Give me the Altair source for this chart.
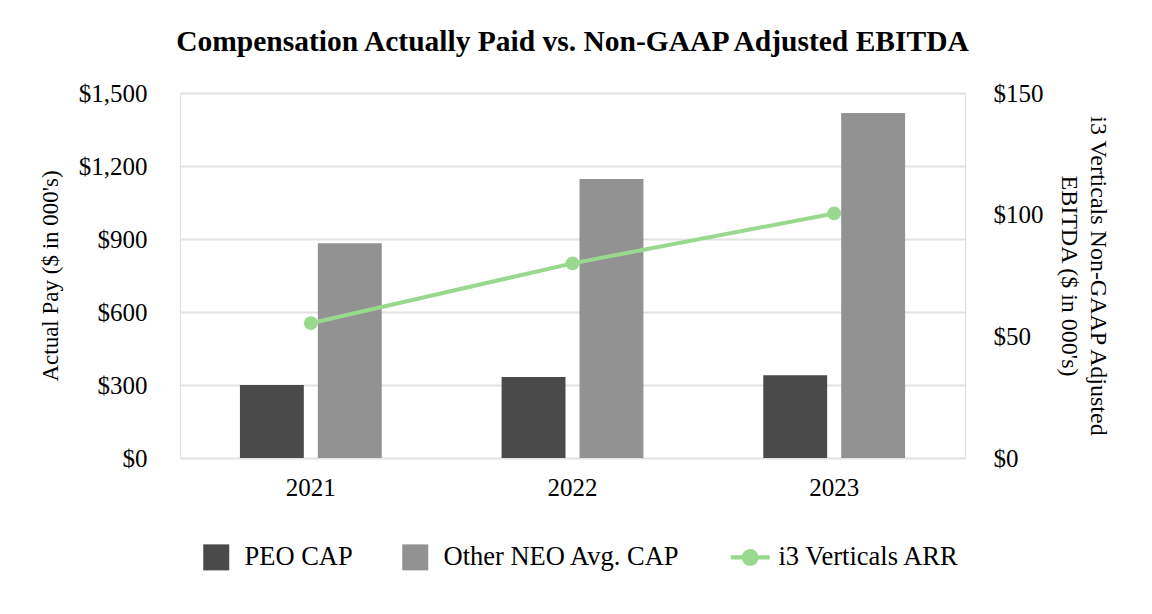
import altair as alt
import pandas as pd

# ---- data ----
years = ["2021", "2022", "2023"]
peo_cap = [300, 333, 340]          # $ in 000's, left axis
neo_cap = [883, 1147, 1418]        # $ in 000's, left axis
arr_values = [55.4, 80.0, 100.5]   # $ in 000's, right axis
series_names = ["PEO CAP", "Other NEO Avg. CAP", "i3 Verticals ARR"]
series_colors = ["#4a4a4a", "#929292", "#98d98e"]
left_ticks = [0, 300, 600, 900, 1200, 1500]
right_ticks = [0, 50, 100, 150]

bars_df = pd.DataFrame({
    "year": years * 2,
    "series": [series_names[0]] * 3 + [series_names[1]] * 3,
    "value": peo_cap + neo_cap,
})
line_df = pd.DataFrame({
    "year": years,
    "series": [series_names[2]] * 3,
    "value": arr_values,
})

FONT = "Liberation Serif"

bar_symbol = "M-1,-1H1V1H-1Z"
line_symbol = ("M-1.5,-0.17H1.5V0.17H-1.5Z"
               "M0.64,0A0.64,0.64 0 1,1 -0.64,0A0.64,0.64 0 1,1 0.64,0Z")

legend = alt.Legend(
    title=None,
    orient="none",
    legendX=23,
    legendY=451,
    direction="horizontal",
    symbolType=alt.ExprRef(
        expr=f"datum.value === '{series_names[2]}' ? '{line_symbol}' : '{bar_symbol}'"
    ),
    symbolSize=676,
    symbolStrokeWidth=0,
    symbolOpacity=1,
    labelFont=FONT,
    labelFontSize=26.5,
    labelColor="#000000",
    labelOffset=15,
    labelLimit=600,
    columnPadding=49,
    padding=0,
)

x_enc = alt.X(
    "year:N",
    scale=alt.Scale(domain=years, paddingInner=0.458, paddingOuter=0.229),
    axis=alt.Axis(
        title=None, labelAngle=0, domain=False, ticks=False, tickSize=0, grid=False,
        labelFont=FONT, labelFontSize=25, labelColor="#000000", labelPadding=17,
    ),
)

color_enc = alt.Color(
    "series:N",
    scale=alt.Scale(domain=series_names, range=series_colors),
    legend=legend,
)

bars = alt.Chart(bars_df).mark_bar().encode(
    x=x_enc,
    xOffset=alt.XOffset("series:N", scale=alt.Scale(domain=series_names[:2], paddingInner=0.18)),
    y=alt.Y(
        "value:Q",
        scale=alt.Scale(domain=[0, 1500]),
        axis=alt.Axis(
            orient="left", values=left_ticks, format="$,.0f",
            title="Actual Pay ($ in 000's)",
            domain=False, ticks=False, tickSize=0,
            grid=True, gridColor="#e2e2e2", gridWidth=2,
            labelFont=FONT, labelFontSize=25, labelColor="#000000", labelPadding=33,
            titleFont=FONT, titleFontSize=23, titleFontWeight="normal", titleColor="#000000",
            titleX=-130, titleY=182.5, titleAngle=270, titleAlign="center", titleBaseline="middle",
        ),
    ),
    color=color_enc,
)

line = alt.Chart(line_df).mark_line(
    strokeWidth=4,
    point=alt.OverlayMarkDef(size=190, filled=True, opacity=1),
).encode(
    x=x_enc,
    y=alt.Y(
        "value:Q",
        scale=alt.Scale(domain=[0, 150]),
        axis=alt.Axis(
            orient="right", values=right_ticks, format="$,.0f",
            title=["i3 Verticals Non-GAAP Adjusted", "EBITDA ($ in 000's)"],
            domain=False, ticks=False, tickSize=0, grid=False,
            labelFont=FONT, labelFontSize=25, labelColor="#000000", labelPadding=28,
            titleFont=FONT, titleFontSize=24, titleFontWeight="normal", titleColor="#000000",
            titleX=132, titleY=182.5, titleAngle=90, titleAlign="center", titleBaseline="middle",
            titleLineHeight=29,
        ),
    ),
    color=color_enc,
)

chart = alt.layer(bars, line).resolve_scale(y="independent").properties(
    width=785,
    height=365,
    autosize=alt.AutoSizeParams(type="none"),
    padding={"left": 172, "top": 85, "right": 170, "bottom": 140},
    title=alt.Title(
        "Compensation Actually Paid vs. Non-GAAP Adjusted EBITDA",
        font=FONT, fontSize=29.5, fontWeight="bold", color="#000000",
        anchor="middle", frame="group", offset=24,
    ),
).configure_view(stroke=None).configure(background="#ffffff")

chart.save("out.html", embed_options={"renderer": "svg", "actions": False})
